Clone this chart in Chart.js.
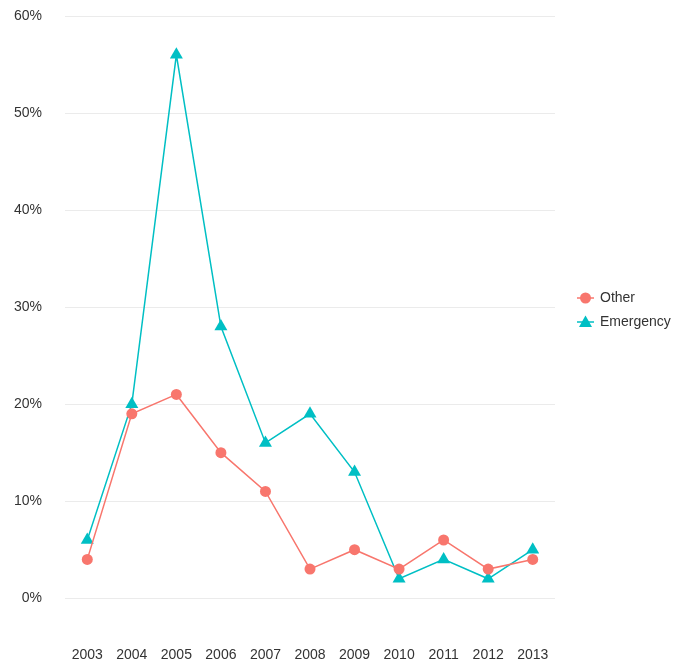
<!DOCTYPE html>
<html>
<head>
<meta charset="utf-8">
<script src="https://cdn.jsdelivr.net/npm/chart.js@4/dist/chart.umd.min.js"></script>
<style>
	html, body { margin: 0; padding: 0; background: #fff; }
	#wrap { width: 683px; height: 663px; position: relative; }
</style>
</head>
<body>
<div id="wrap"><canvas id="chart"></canvas></div>
<script>
(() => {
	'use strict'

	// Data
	const years = ['2003', '2004', '2005', '2006', '2007', '2008', '2009', '2010', '2011', '2012', '2013'];
	const otherValues = [4, 19, 21, 15, 11, 3, 5, 3, 6, 3, 4];
	const emergencyValues = [6, 20, 56, 28, 16, 19, 13, 2, 4, 2, 5];
	const yTicks = [0, 10, 20, 30, 40, 50, 60];

	const redColor = '#F8766D';
	const tealColor = '#00BFC4';
	const textColor = '#333333';
	const fontFamily = '"Liberation Sans", Arial, sans-serif';

	// Legend drawn by hand so each key has a line through its marker
	const sideLegend = {
		id: 'sideLegend',
		afterDraw(chart) {
			const ctx = chart.ctx;
			const x0 = 577;
			const rows = [298, 322];
			ctx.save();
			chart.data.datasets.forEach((ds, i) => {
				const y = rows[i];
				ctx.strokeStyle = ds.borderColor;
				ctx.fillStyle = ds.backgroundColor;
				ctx.lineWidth = 1.5;
				ctx.beginPath();
				ctx.moveTo(x0, y);
				ctx.lineTo(x0 + 17, y);
				ctx.stroke();
				ctx.beginPath();
				if (ds.pointStyle === 'triangle') {
					ctx.moveTo(x0 + 8.5, y - 6.5);
					ctx.lineTo(x0 + 15, y + 5);
					ctx.lineTo(x0 + 2, y + 5);
					ctx.closePath();
				} else {
					ctx.arc(x0 + 8.5, y, 5.5, 0, Math.PI * 2);
				}
				ctx.fill();
				ctx.fillStyle = textColor;
				ctx.font = '14px ' + fontFamily;
				ctx.textBaseline = 'middle';
				ctx.fillText(ds.label, x0 + 23, y);
			});
			ctx.restore();
		}
	};

	const config = {
		type: 'line',
		data: {
			labels: years,
			datasets: [
				{
					label: 'Other',
					data: otherValues,
					borderColor: redColor,
					backgroundColor: redColor,
					borderWidth: 1.5,
					pointStyle: 'circle',
					pointRadius: 5.5,
					pointBorderWidth: 0,
					tension: 0
				},
				{
					label: 'Emergency',
					data: emergencyValues,
					borderColor: tealColor,
					backgroundColor: tealColor,
					borderWidth: 1.5,
					pointStyle: 'triangle',
					pointRadius: 7.5,
					pointBorderWidth: 0,
					tension: 0
				}
			]
		},
		options: {
			responsive: true,
			maintainAspectRatio: false,
			animation: false,
			layout: {
				padding: { top: 16, right: 128, bottom: -9, left: 0 }
			},
			plugins: {
				legend: { display: false },
				tooltip: { enabled: false }
			},
			scales: {
				x: {
					type: 'category',
					offset: true,
					grid: { display: false },
					border: { display: false },
					ticks: {
						color: textColor,
						font: { family: fontFamily, size: 14 },
						padding: 8,
						maxRotation: 0
					}
				},
				y: {
					min: -3.4,
					max: 60,
					afterBuildTicks(scale) {
						scale.ticks = yTicks.map(v => ({ value: v }));
					},
					afterFit(scale) {
						// fixed axis width, and no extra room above/below for the labels
						scale.width = 65;
						scale.paddingTop = 0;
						scale.paddingBottom = 0;
					},
					grid: {
						color: '#EBEBEB',
						lineWidth: 1,
						drawTicks: false
					},
					border: { display: false },
					ticks: {
						color: textColor,
						font: { family: fontFamily, size: 14 },
						padding: 23,
						callback: v => v + '%'
					}
				}
			}
		},
		plugins: [sideLegend]
	};

	new Chart(document.getElementById('chart'), config);
})()
</script>
</body>
</html>
